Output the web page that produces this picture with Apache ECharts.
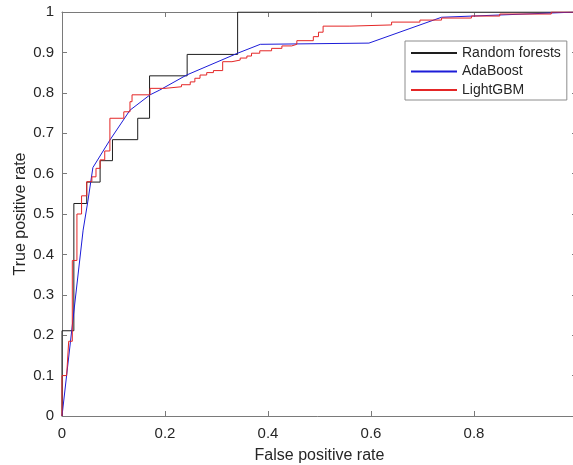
<!DOCTYPE html>
<html>
<head>
<meta charset="utf-8">
<script src="https://cdn.jsdelivr.net/npm/echarts@6/dist/echarts.min.js"></script>
<style>
  html, body { margin: 0; padding: 0; background: #ffffff; }
  #chart { width: 573px; height: 465px; }
</style>
</head>
<body>
<div id="chart"></div>
<script>
// ROC curves: false positive rate (x) against true positive rate (y)
const seriesNames = ['Random forests', 'AdaBoost', 'LightGBM'];

const rfFpr = [0, 0, 0.023, 0.023, 0.048, 0.048, 0.074, 0.074, 0.098, 0.098, 0.147, 0.147, 0.17, 0.17, 0.243, 0.243, 0.341, 0.341, 1];
const rfTpr = [0, 0.211, 0.211, 0.526, 0.526, 0.579, 0.579, 0.632, 0.632, 0.684, 0.684, 0.737, 0.737, 0.842, 0.842, 0.895, 0.895, 1, 1];

const adaFpr = [0, 0.041, 0.05, 0.06, 0.093, 0.132, 0.171, 0.19, 0.242, 0.341, 0.385, 0.596, 0.737, 1];
const adaTpr = [0, 0.46, 0.53, 0.615, 0.683, 0.757, 0.795, 0.807, 0.844, 0.898, 0.92, 0.923, 0.987, 1];

const lgbFpr = [0, 0, 0.009, 0.013, 0.02, 0.02, 0.029, 0.029, 0.038, 0.038, 0.048, 0.048, 0.058, 0.058, 0.066, 0.066,
  0.074, 0.074, 0.083, 0.083, 0.093, 0.093, 0.12, 0.12, 0.132, 0.132, 0.136, 0.136, 0.171, 0.171, 0.2, 0.2,
  0.232, 0.232, 0.249, 0.249, 0.258, 0.258, 0.268, 0.268, 0.281, 0.281, 0.294, 0.294, 0.312, 0.312, 0.33, 0.33,
  0.346, 0.346, 0.359, 0.359, 0.368, 0.368, 0.384, 0.384, 0.407, 0.407, 0.427, 0.427, 0.446, 0.446, 0.456, 0.456,
  0.488, 0.488, 0.498, 0.498, 0.507, 0.507, 0.559, 0.559, 0.64, 0.64, 0.695, 0.695, 0.737, 0.737, 0.795, 0.795,
  0.85, 0.85, 0.95, 0.95, 1];
const lgbTpr = [0, 0.1, 0.1, 0.185, 0.185, 0.385, 0.385, 0.5, 0.5, 0.545, 0.545, 0.58, 0.58, 0.592, 0.592, 0.613,
  0.613, 0.634, 0.634, 0.656, 0.656, 0.737, 0.737, 0.753, 0.753, 0.778, 0.778, 0.795, 0.795, 0.811, 0.811, 0.815,
  0.815, 0.82, 0.82, 0.827, 0.827, 0.836, 0.836, 0.844, 0.844, 0.85, 0.85, 0.855, 0.855, 0.877, 0.877, 0.881,
  0.881, 0.886, 0.886, 0.891, 0.891, 0.898, 0.898, 0.904, 0.904, 0.91, 0.91, 0.916, 0.916, 0.92, 0.92, 0.929,
  0.929, 0.939, 0.939, 0.95, 0.95, 0.965, 0.965, 0.968, 0.968, 0.975, 0.975, 0.98, 0.98, 0.985, 0.985, 0.99,
  0.99, 0.995, 0.995, 1, 1];

const xTicks = { min: 0, max: 1, interval: 0.2 };
const yTicks = { min: 0, max: 1, interval: 0.1 };

const seriesColors = ['#1e1e1e', '#1c1cd8', '#e42626'];

const zip = (xs, ys) => xs.map((x, i) => [x, ys[i]]);

const FONT = "'Liberation Sans', Arial, Helvetica, sans-serif";
const AXIS_COLOR = '#7a7a7a';
const TEXT_COLOR = '#262626';

function boxAxis(extra) {
  return Object.assign({
    type: 'value',
    gridIndex: 0,
    axisLine: { show: true, onZero: false, lineStyle: { color: AXIS_COLOR, width: 1 } },
    axisTick: { show: true, inside: true, length: 5, lineStyle: { color: AXIS_COLOR } },
    splitLine: { show: false },
    axisLabel: { show: false }
  }, extra);
}

function curve(i, xs, ys) {
  return {
    name: seriesNames[i], type: 'line', xAxisIndex: 0, yAxisIndex: 0,
    symbol: 'none', silent: true,
    lineStyle: { color: seriesColors[i], width: 1 },
    itemStyle: { color: seriesColors[i] },
    data: zip(xs, ys)
  };
}

const chart = echarts.init(document.getElementById('chart'), null, { renderer: 'canvas' });

chart.setOption({
  animation: false,
  backgroundColor: '#ffffff',
  textStyle: { fontFamily: FONT },
  // the plot box runs slightly past the right edge of the canvas
  grid: { left: 62, top: 12, width: 515, height: 404, containLabel: false, outerBoundsMode: 'none' },
  legend: {
    orient: 'vertical',
    left: 405,
    top: 41,
    padding: [5, 6, 3, 5],
    itemWidth: 46,
    itemHeight: 14,
    itemGap: 4.5,
    backgroundColor: '#ffffff',
    borderColor: '#8c8c8c',
    borderWidth: 1,
    borderRadius: 0,
    itemStyle: { color: 'transparent', borderWidth: 0, opacity: 0 },
    textStyle: { fontFamily: FONT, fontSize: 14, color: TEXT_COLOR },
    data: seriesNames
  },
  xAxis: [
    boxAxis(Object.assign({
      position: 'bottom',
      name: 'False positive rate',
      nameLocation: 'middle',
      nameGap: 32,
      nameMoveOverlap: false,
      nameTextStyle: { fontFamily: FONT, fontSize: 16, color: TEXT_COLOR, verticalAlign: 'top' },
      axisLabel: { show: true, margin: 10, fontFamily: FONT, fontSize: 15, color: TEXT_COLOR }
    }, xTicks)),
    boxAxis(Object.assign({ position: 'top' }, xTicks))
  ],
  yAxis: [
    boxAxis(Object.assign({
      position: 'left',
      name: 'True positive rate',
      nameLocation: 'middle',
      nameGap: 33,
      nameMoveOverlap: false,
      nameTextStyle: { fontFamily: FONT, fontSize: 16, color: TEXT_COLOR },
      axisLabel: { show: true, margin: 8, fontFamily: FONT, fontSize: 15, color: TEXT_COLOR }
    }, yTicks)),
    boxAxis(Object.assign({ position: 'right' }, yTicks))
  ],
  series: [
    curve(0, rfFpr, rfTpr),
    curve(1, adaFpr, adaTpr),
    curve(2, lgbFpr, lgbTpr)
  ]
});
</script>
</body>
</html>
